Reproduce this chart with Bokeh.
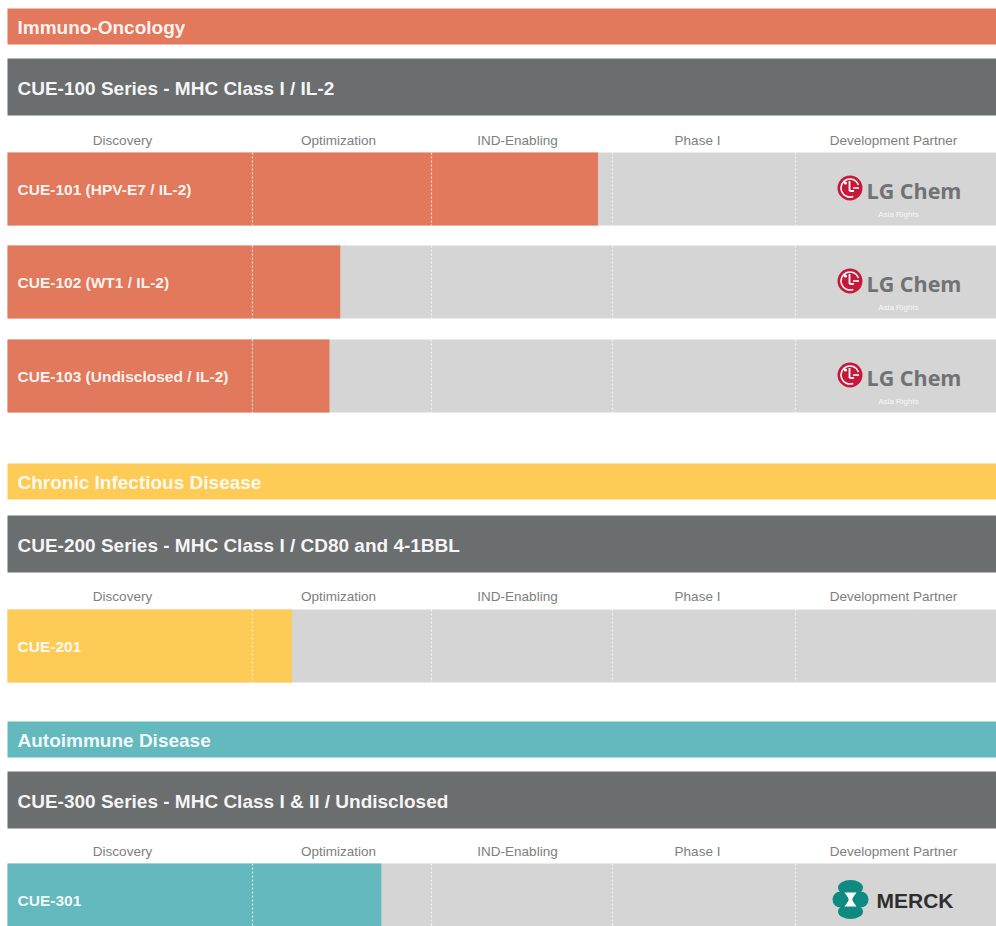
import numpy as np
from bokeh.plotting import figure
from bokeh.models import Range1d
from bokeh.core.properties import value
from bokeh.embed import file_html
from bokeh.resources import INLINE

# ---------------- data ----------------
categories = ["Immuno-Oncology", "Chronic Infectious Disease", "Autoimmune Disease"]
series_titles = [
    "CUE-100 Series - MHC Class I / IL-2",
    "CUE-200 Series - MHC Class I / CD80 and 4-1BBL",
    "CUE-300 Series - MHC Class I & II / Undisclosed",
]
stages = ["Discovery", "Optimization", "IND-Enabling", "Phase I", "Development Partner"]
programs = [
    "CUE-101 (HPV-E7 / IL-2)",
    "CUE-102 (WT1 / IL-2)",
    "CUE-103 (Undisclosed / IL-2)",
    "CUE-201",
    "CUE-301",
]
program_group = [0, 0, 0, 1, 2]
# progress in stage units (0 = start of Discovery, 1 = start of Optimization, ...)
progress = [2.92, 1.49, 1.43, 1.22, 1.72]
partners = ["LG Chem", "LG Chem", "LG Chem", "", "MERCK"]
partner_notes = ["Asia Rights", "Asia Rights", "Asia Rights", "", ""]

# ---------------- style / layout ----------------
group_colors = ["#E2795C", "#FDCB56", "#64B9BE"]
header_grey = "#6B6E6F"
row_grey = "#D5D5D5"
stage_label_color = "#7E7E7E"

X0, X1 = 7, 996
stage_edges = [7, 252, 431, 612, 795, 996]          # pixel layout of stage columns
stage_label_x = [122, 338, 517, 697, 893]
cat_tops = [8, 463, 721]
CAT_H = 36
hdr_tops = [58, 515, 771]
HDR_H = 57
stage_label_y = [140, 596, 851]
row_tops = [152, 245, 339, 609, 863]
ROW_H = 73

W, H = 996, 926
p = figure(width=W, height=H, x_range=Range1d(0, W), y_range=Range1d(H, 0),
           output_backend="svg", toolbar_location=None, min_border=0)
p.axis.visible = False
p.grid.visible = False
p.outline_line_color = None
p.background_fill_color = "white"
p.border_fill_color = "white"

FONT = value("Liberation Sans")

# category bands
p.quad(left=[X0] * 3, right=[X1] * 3, top=cat_tops, bottom=[t + CAT_H for t in cat_tops],
       fill_color=group_colors, line_color=None)
p.text(x=[17] * 3, y=[t + CAT_H / 2 + 1 for t in cat_tops], text=categories,
       text_font=FONT, text_font_style="bold", text_font_size="19px",
       text_color="#FFFFFF", text_alpha=0.93, text_baseline="middle", text_align="left")

# series headers
p.quad(left=[X0] * 3, right=[X1] * 3, top=hdr_tops, bottom=[t + HDR_H for t in hdr_tops],
       fill_color=header_grey, line_color=None)
p.text(x=[17] * 3, y=[t + HDR_H / 2 + 1 for t in hdr_tops], text=series_titles,
       text_font=FONT, text_font_style="bold", text_font_size="19px",
       text_color="#FFFFFF", text_alpha=0.95, text_baseline="middle", text_align="left")

# stage column labels
lx, ly, lt = [], [], []
for yy in stage_label_y:
    for c, s in zip(stage_label_x, stages):
        lx.append(c); ly.append(yy); lt.append(s)
p.text(x=lx, y=ly, text=lt, text_font=FONT, text_font_size="13.5px",
       text_color=stage_label_color, text_baseline="middle", text_align="center")

# program rows
row_bottoms = [t + ROW_H for t in row_tops]
p.quad(left=[X0] * 5, right=[X1] * 5, top=row_tops, bottom=row_bottoms,
       fill_color=row_grey, line_color=None)
prog_end = np.interp(progress, [0, 1, 2, 3, 4, 5], stage_edges)
p.quad(left=[X0] * 5, right=list(prog_end), top=row_tops, bottom=row_bottoms,
       fill_color=[group_colors[g] for g in program_group], line_color=None)

# dashed stage dividers
sx0, sy0, sy1 = [], [], []
for t, b in zip(row_tops, row_bottoms):
    for e in stage_edges[1:5]:
        sx0.append(e); sy0.append(t); sy1.append(b)
p.segment(x0=sx0, y0=sy0, x1=sx0, y1=sy1, line_color="white", line_alpha=0.75,
          line_width=1.2, line_dash="2 2")

# program labels
p.text(x=[17] * 5, y=[t + ROW_H / 2 for t in row_tops], text=programs,
       text_font=FONT, text_font_style="bold", text_font_size="15.5px",
       text_color="#FFFFFF", text_alpha=0.93, text_baseline="middle", text_align="left")

# partner logos
for name, note, t in zip(partners, partner_notes, row_tops):
    cy = t + ROW_H / 2
    if name == "LG Chem":
        cx = 849.5
        cy = cy - 1
        p.scatter(x=[cx], y=[cy], size=25, marker="circle", fill_color="#C6193A", line_color=None)
        p.scatter(x=[cx - 4.5], y=[cy - 5], size=3.2, marker="circle", fill_color="white", line_color=None)
        p.segment(x0=[cx - 0.5], y0=[cy - 7], x1=[cx - 0.5], y1=[cy + 3], line_color="white", line_width=1.8)
        p.segment(x0=[cx - 0.5], y0=[cy + 3], x1=[cx + 4], y1=[cy + 3], line_color="white", line_width=1.8)
        p.arc(x=[cx], y=[cy], radius=9, start_angle=0.35, end_angle=-1.2,
              line_color="white", line_width=1.6)
        p.segment(x0=[cx + 3], y0=[cy], x1=[cx + 9], y1=[cy], line_color="white", line_width=1.6)
        p.text(x=[866], y=[cy + 2], text=[name], text_font=value("Open Sans"),
               text_font_style="bold", text_font_size="21.5px", text_color="#707274",
               text_baseline="middle", text_align="left")
        p.text(x=[898], y=[cy + 26], text=[note], text_font=FONT, text_font_size="8px",
               text_color="#FFFFFF", text_alpha=0.85, text_baseline="middle", text_align="center")
    elif name == "MERCK":
        cx = 850
        teal = "#0E8A80"
        cy = 899
        p.ellipse(x=[cx, cx], y=[cy - 12, cy + 12], width=[25, 25], height=[15, 15],
                  fill_color=teal, line_color=None)
        p.scatter(x=[cx - 10, cx + 10], y=[cy, cy], size=[16, 16], marker="circle",
                  fill_color=teal, line_color=None)
        p.patches(xs=[[cx - 6, cx + 6, cx + 1, cx + 6, cx - 6, cx - 1]],
                  ys=[[cy - 7, cy - 7, cy, cy + 7, cy + 7, cy]],
                  fill_color="white", line_color=None)
        p.text(x=[876], y=[cy + 1], text=[name], text_font=FONT, text_font_style="bold",
               text_font_size="21px", text_color="#2E2E2E",
               text_baseline="middle", text_align="left")

open("out.html", "w").write(file_html(p, INLINE))
